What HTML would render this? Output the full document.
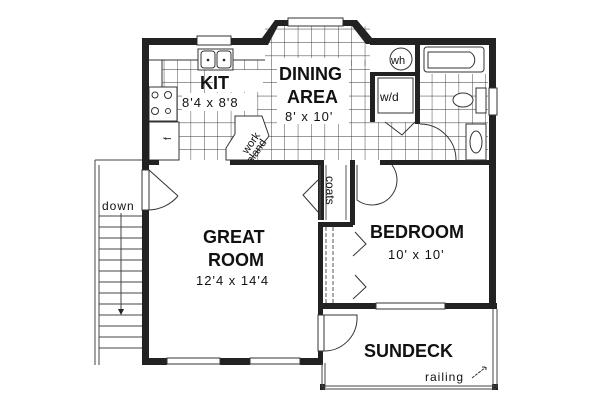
<!DOCTYPE html>
<html><head><meta charset="utf-8"><style>
html,body{margin:0;padding:0;background:#fff;}
svg{display:block;}
text{font-family:"Liberation Sans",Arial,sans-serif;fill:#111;}
.b{font-weight:bold;font-size:18px;}
.d{font-size:13px;letter-spacing:1px;}
</style></head><body>
<svg width="600" height="407" viewBox="0 0 600 407" xmlns="http://www.w3.org/2000/svg">
<defs>
<pattern id="tile" x="3" y="2" width="13.4" height="13.4" patternUnits="userSpaceOnUse">
<path d="M0 0H13.4M0 0V13.4" stroke="#333" stroke-width="0.9" fill="none"/>
</pattern>
</defs>
<rect x="162" y="60" width="208" height="100" fill="url(#tile)"/>
<rect x="265" y="26" width="105" height="40" fill="url(#tile)"/>
<rect x="370" y="122" width="50" height="38" fill="url(#tile)"/>
<rect x="420" y="74" width="68" height="86" fill="url(#tile)"/>
<rect x="213" y="70" width="50" height="22" fill="#fff"/>
<rect x="182" y="93" width="75" height="18" fill="#fff"/>
<rect x="277" y="58" width="72" height="66" fill="#fff"/>
<rect x="148" y="45" width="117" height="15" fill="#fff"/>
<rect x="148" y="60" width="14" height="100" fill="#fff"/>
<path d="M148 60H265M162 60V87" stroke="#333" fill="none"/>
<rect x="149" y="87" width="28" height="34" fill="#fff" stroke="#333"/>
<circle cx="155" cy="95" r="3" fill="none" stroke="#333"/><circle cx="168" cy="95" r="3.5" fill="none" stroke="#333"/>
<circle cx="155" cy="111" r="3.5" fill="none" stroke="#333"/><circle cx="168" cy="111" r="2.5" fill="none" stroke="#333"/>
<rect x="149" y="122" width="30" height="38" fill="#fff" stroke="#333"/>
<text x="168" y="143" font-size="10" transform="rotate(-90 168 140)">f</text>
<rect x="198" y="49" width="35" height="21" fill="#fff" stroke="#333"/>
<rect x="201" y="51" width="14" height="17" rx="3" fill="none" stroke="#333"/>
<rect x="217" y="51" width="14" height="17" rx="3" fill="none" stroke="#333"/>
<circle cx="208" cy="60" r="1.3" fill="#222"/><circle cx="224" cy="60" r="1.3" fill="#222"/>
<!-- work island -->
<polygon points="235,116 262,116 269,136 250,160 226,160 226,148 235,134" fill="#fff" stroke="#333"/>
<text x="236" y="151" font-size="11" transform="rotate(-55 245 142)">work</text>
<text x="238" y="162" font-size="11" transform="rotate(-55 248 152)">island</text>
<rect x="197" y="36" width="34" height="9" fill="#fff" stroke="#333"/>
<rect x="288" y="18" width="55" height="8" fill="#fff" stroke="#333"/>
<g fill="#222">
<rect x="142" y="38" width="55" height="7"/>
<rect x="231" y="38" width="36" height="7"/>
<polygon points="262,38 275,20 288,20 288,26 278,26 268,45 262,45"/>
<polygon points="343,20 357,20 372,38 372,44 366,44 352,26 343,26"/>
<rect x="370" y="38" width="126" height="7"/>
<rect x="142" y="38" width="7" height="327"/>
<rect x="489" y="38" width="7" height="50"/>
<rect x="489" y="115" width="7" height="193"/>
<rect x="142" y="358" width="25" height="7"/>
<rect x="220" y="358" width="30" height="7"/>
<rect x="300" y="358" width="22" height="7"/>
<rect x="149" y="160" width="10" height="5"/>
<rect x="230" y="160" width="90" height="5"/>
<rect x="318" y="160" width="6" height="60"/>
<rect x="350" y="160" width="5" height="65"/>
<rect x="318" y="222" width="35" height="5"/>
<rect x="318" y="225" width="5" height="140"/>
<rect x="380" y="160" width="116" height="5"/>
<rect x="318" y="303" width="58" height="6"/>
<rect x="445" y="303" width="52" height="6"/>
<rect x="370" y="72" width="5" height="50"/>
<rect x="370" y="72" width="48" height="4"/>
<rect x="415" y="44" width="5" height="80"/>
<rect x="320" y="384" width="5" height="6"/>
<rect x="492" y="384" width="6" height="6"/>
</g>
<rect x="167" y="358" width="53" height="6" fill="#fff" stroke="#333"/>
<rect x="250" y="358" width="50" height="6" fill="#fff" stroke="#333"/>
<rect x="376" y="303" width="69" height="6" fill="#fff" stroke="#333"/>
<rect x="489" y="88" width="8" height="27" fill="#fff" stroke="#333"/>
<rect x="424" y="47" width="60" height="25" rx="3" fill="#fff" stroke="#333"/>
<path d="M428 52H470A12 10 0 0 1 470 68H428Z" fill="none" stroke="#333"/>
<ellipse cx="463" cy="100" rx="10" ry="7" fill="#fff" stroke="#333"/>
<rect x="476" y="88" width="10" height="25" fill="#fff" stroke="#333"/>
<rect x="466" y="124" width="20" height="36" fill="#fff" stroke="#333"/>
<ellipse cx="476" cy="142" rx="6" ry="11" fill="none" stroke="#333"/>
<circle cx="401" cy="59" r="11" fill="#fff" stroke="#333"/>
<text x="391" y="64" font-size="11">wh</text>
<rect x="378" y="78" width="35" height="35" fill="#fff" stroke="#333"/>
<text x="380" y="101" font-size="12">w/d</text>
<path d="M385 122L402 135L415 122" stroke="#333" fill="none"/>
<path d="M420 124A36 36 0 0 1 456 160" stroke="#333" fill="none"/>
<rect x="142" y="170" width="7" height="40" fill="#fff" stroke="#333"/>
<path d="M149 170L178 196M149 210A40 40 0 0 0 178 196" stroke="#333" fill="none"/>
<path d="M320 165V220M346 165V220M326 165V220" stroke="#555" fill="none"/>
<path d="M318 180L303 195L318 212" stroke="#333" fill="none"/>
<text x="326" y="176" font-size="12" transform="rotate(90 326 176)">coats</text>
<path d="M357 165V200A25 25 0 0 0 392 165" stroke="#333" fill="none"/>
<path d="M326 227V303M333 227V303" stroke="#555" fill="none" stroke-dasharray="4 2"/>
<path d="M355 232L366 244L353 256M355 275L366 287L353 299" stroke="#333" fill="none"/>
<rect x="318" y="315" width="6" height="36" fill="#fff" stroke="#333"/>
<path d="M324 315H357V320A33 33 0 0 1 324 351" stroke="#333" fill="none"/>
<path d="M322 363V388M325 363V388M322 386H496M322 389H496M493 309V388M497 309V388" stroke="#444" fill="none"/>
<path d="M95 160V365M99 165V365M95 160H142" stroke="#444" fill="none"/>
<g stroke="#444">
<line x1="99" y1="216" x2="142" y2="216"/><line x1="99" y1="227" x2="142" y2="227"/><line x1="99" y1="238" x2="142" y2="238"/><line x1="99" y1="249" x2="142" y2="249"/><line x1="99" y1="260" x2="142" y2="260"/><line x1="99" y1="271" x2="142" y2="271"/><line x1="99" y1="282" x2="142" y2="282"/><line x1="99" y1="293" x2="142" y2="293"/><line x1="99" y1="304" x2="142" y2="304"/><line x1="99" y1="315" x2="142" y2="315"/><line x1="99" y1="326" x2="142" y2="326"/><line x1="99" y1="337" x2="142" y2="337"/><line x1="99" y1="348" x2="142" y2="348"/>
<line x1="121" y1="213" x2="121" y2="310"/>
</g>
<polygon points="118,309 124,309 121,315" fill="#222"/>
<text x="102" y="210" font-size="12" letter-spacing="1">down</text>
<text class="b" x="200" y="89">KIT</text>
<text class="d" x="182" y="107">8'4 x 8'8</text>
<text class="b" x="279" y="80">DINING</text>
<text class="b" x="287" y="103">AREA</text>
<text class="d" x="285" y="121">8' x 10'</text>
<text class="b" x="203" y="243">GREAT</text>
<text class="b" x="208" y="266">ROOM</text>
<text class="d" x="196" y="285">12'4 x 14'4</text>
<text class="b" x="370" y="238">BEDROOM</text>
<text class="d" x="388" y="259">10' x 10'</text>
<text class="b" x="364" y="357">SUNDECK</text>
<text x="425" y="381" font-size="12" letter-spacing="1">railing</text>
<path d="M472 378L486 367M482 367H486V371" stroke="#333" fill="none" stroke-dasharray="3 1"/>
</svg>
</body></html>
